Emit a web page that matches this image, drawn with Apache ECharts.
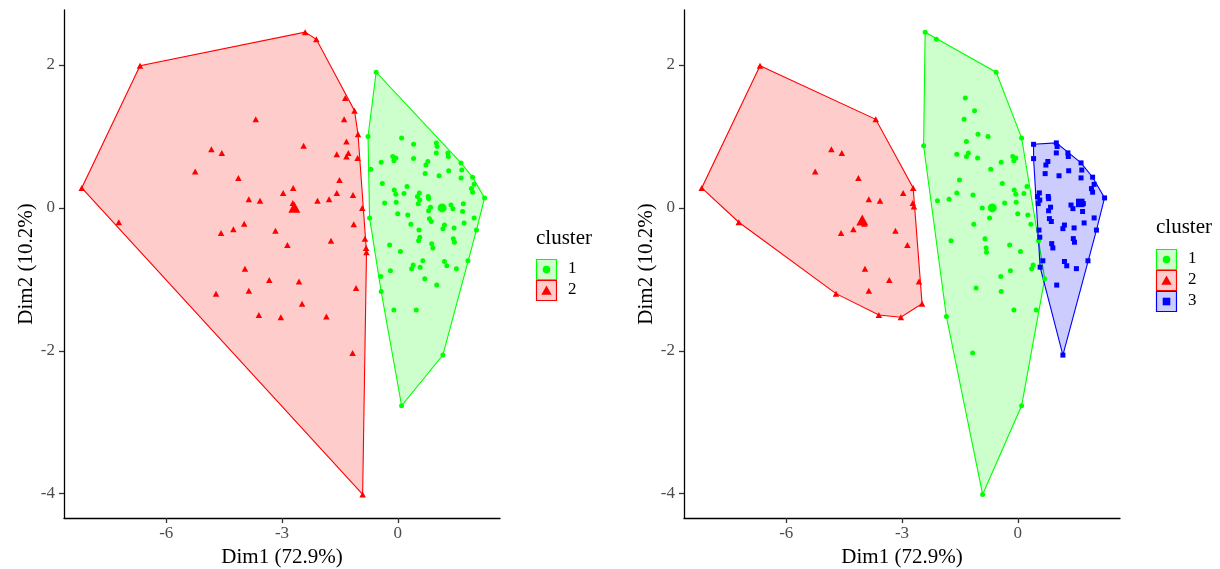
<!DOCTYPE html>
<html>
<head>
<meta charset="utf-8">
<script src="https://cdn.jsdelivr.net/npm/echarts@6/dist/echarts.min.js"></script>
<style>
html,body{margin:0;padding:0;background:#fff;}
#chart{width:1220px;height:569px;}
</style>
</head>
<body>
<div id="chart"></div>
<script>
// ---------------- DATA ----------------
// PCA coordinates of each observation
const dim1 = [
  -2.40,-2.11,-6.68,-8.19,-1.36,-1.12,-1.03,-1.04,-0.92,-3.68,
  -1.39,-2.44,-1.33,-1.58,-1.28,-1.33,-4.83,-4.56,-5.25,-4.13,
  -1.51,-2.71,-2.97,-1.58,-1.16,-3.86,-3.57,-2.08,-1.78,-2.72,
  -2.69,-7.23,-4.58,-4.26,-3.98,-3.17,-2.86,-1.14,-1.73,-0.85,
  -0.81,-0.82,-3.96,-3.33,-2.56,-4.71,-3.86,-1.08,-2.48,-3.60,
  -3.03,-1.85,-1.17,-0.91,
  -0.56,-0.77,-0.73,-0.44,1.64,1.94,2.25,2.04,1.82,1.17,
  0.10,0.10,0.41,1.00,1.02,1.00,1.30,1.31,-0.13,-0.05,
  -0.10,0.41,-0.43,0.78,0.73,-0.70,0.71,1.32,1.66,1.07,
  1.64,-0.40,0.24,1.98,1.91,1.94,-0.09,-0.05,0.16,0.56,
  0.51,0.57,0.79,0.80,-0.34,-0.04,0.53,1.38,1.43,1.70,
  0.85,1.68,0.80,0.00,0.26,0.82,0.87,0.34,1.72,1.21,
  1.17,1.46,0.55,0.57,0.54,1.44,1.47,-0.21,0.88,0.91,
  0.07,0.65,0.40,0.36,0.58,1.21,1.27,1.52,-0.19,0.70,
  1.01,-0.43,-0.10,0.48,1.98
];
const dim2 = [
  2.46,2.36,1.99,0.28,1.54,1.36,1.03,0.70,0.00,1.24,
  1.24,0.87,0.93,0.75,0.77,0.72,0.82,0.77,0.51,0.42,
  0.39,0.28,0.21,0.21,0.18,0.12,0.10,0.10,0.12,0.07,
  0.02,-0.20,-0.35,-0.30,-0.22,-0.32,-0.52,-0.23,-0.46,-0.43,
  -0.62,-0.56,-0.85,-1.01,-1.03,-1.20,-1.16,-1.12,-1.34,-1.50,
  -1.53,-1.52,-2.03,-4.01,
  1.90,1.00,-0.14,-0.96,0.63,0.43,0.14,-0.31,-0.74,-2.06,
  -2.77,0.98,0.89,0.91,0.86,0.77,0.77,0.72,0.72,0.70,
  0.66,0.69,0.64,0.65,0.60,0.54,0.48,0.52,0.53,0.45,
  0.42,0.34,0.30,0.33,0.27,0.22,0.25,0.19,0.20,0.21,
  0.16,0.11,0.16,0.13,0.07,0.08,0.06,0.04,-0.01,0.06,
  0.01,-0.05,-0.04,-0.08,-0.10,-0.15,-0.19,-0.23,-0.21,-0.24,
  -0.29,-0.28,-0.31,-0.41,-0.46,-0.43,-0.48,-0.52,-0.50,-0.56,
  -0.61,-0.74,-0.80,-0.85,-0.83,-0.75,-0.81,-0.85,-0.88,-0.99,
  -1.08,-1.17,-1.43,-1.43,-0.14
];
// cluster membership, k = 2 (left panel)
const clusterK2 = [
  2,2,2,2,2,2,2,2,2,2, 2,2,2,2,2,2,2,2,2,2,
  2,2,2,2,2,2,2,2,2,2, 2,2,2,2,2,2,2,2,2,2,
  2,2,2,2,2,2,2,2,2,2, 2,2,2,2,
  1,1,1,1,1,1,1,1,1,1, 1,1,1,1,1,1,1,1,1,1,
  1,1,1,1,1,1,1,1,1,1, 1,1,1,1,1,1,1,1,1,1,
  1,1,1,1,1,1,1,1,1,1, 1,1,1,1,1,1,1,1,1,1,
  1,1,1,1,1,1,1,1,1,1, 1,1,1,1,1,1,1,1,1,1,
  1,1,1,1,1
];
// cluster membership, k = 3 (right panel)
const clusterK3 = [
  1,1,2,2,1,1,1,1,1,2, 1,1,1,1,1,1,2,2,2,2,
  1,2,2,1,1,2,2,1,1,2, 2,2,2,2,2,2,2,1,1,1,
  1,1,2,2,2,2,2,1,2,2, 2,1,1,1,
  1,1,1,1,3,3,3,3,3,3, 1,1,3,3,3,3,3,3,1,1,
  1,3,1,3,3,1,3,3,3,3, 3,1,1,3,3,3,1,1,1,3,
  3,3,3,3,1,1,3,3,3,3, 3,3,3,1,1,3,3,1,3,3,
  3,3,3,3,1,3,3,1,3,3, 1,3,1,1,3,3,3,3,1,1,
  3,1,1,1,3
];
// cluster centres
const centerK2Cluster = [1, 2];
const centerK2Dim1 = [1.15, -2.68];
const centerK2Dim2 = [0.00, 0.01];
const centerK3Cluster = [1, 2, 3];
const centerK3Dim1 = [-0.66, -4.03, 1.62];
const centerK3Dim2 = [0.00, -0.17, 0.07];

const xTicks = [-6, -3, 0];
const yTicks = [-4, -2, 0, 2];
const xTitle = 'Dim1 (72.9%)';
const yTitle = 'Dim2 (10.2%)';
const legendTitle = 'cluster';

// ---------------- STYLE ----------------
const FONT = '"Liberation Serif", "DejaVu Serif", serif';
const COL = {1: '#00FF00', 2: '#FF0000', 3: '#0000FF'};
const FILL = {1: 'rgba(0,255,0,0.2)', 2: 'rgba(255,0,0,0.2)', 3: 'rgba(0,0,255,0.2)'};
const SYM = {1: 'circle', 2: 'triangle', 3: 'rect'};
const SIZE = {1: 5, 2: [6.5, 6], 3: 5};
const BIG = {1: 9, 2: [12, 11], 3: 8.5};

function convexHull(pts) {
  const p = pts.slice().sort((a, b) => a[0] - b[0] || a[1] - b[1]);
  if (p.length < 3) return p;
  const cross = (o, a, b) => (a[0]-o[0])*(b[1]-o[1]) - (a[1]-o[1])*(b[0]-o[0]);
  const lower = [], upper = [];
  for (const q of p) {
    while (lower.length >= 2 && cross(lower[lower.length-2], lower[lower.length-1], q) <= 0) lower.pop();
    lower.push(q);
  }
  for (let i = p.length - 1; i >= 0; i--) {
    const q = p[i];
    while (upper.length >= 2 && cross(upper[upper.length-2], upper[upper.length-1], q) <= 0) upper.pop();
    upper.push(q);
  }
  upper.pop(); lower.pop();
  return lower.concat(upper);
}

function panelSeries(idx, assign, clusters, cClusters, cX, cY) {
  const out = [];
  clusters.forEach(c => {
    const pts = [];
    for (let i = 0; i < dim1.length; i++) if (assign[i] === c) pts.push([dim1[i], dim2[i]]);
    const h = convexHull(pts);
    out.push({
      type: 'custom', xAxisIndex: idx, yAxisIndex: idx, silent: true, z: 1 + c * 0.01,
      clip: false,
      data: [[h[0][0], h[0][1]]],
      renderItem: function (params, api) {
        return {
          type: 'polygon',
          shape: {points: h.map(q => api.coord(q))},
          style: {fill: FILL[c], stroke: COL[c], lineWidth: 1.1}
        };
      }
    });
  });
  clusters.forEach(c => {
    const pts = [];
    for (let i = 0; i < dim1.length; i++) if (assign[i] === c) pts.push([dim1[i], dim2[i]]);
    out.push({
      type: 'scatter', xAxisIndex: idx, yAxisIndex: idx, silent: true, z: 3,
      symbol: SYM[c], symbolSize: SIZE[c], itemStyle: {color: COL[c], opacity: 1},
      data: pts
    });
  });
  cClusters.forEach((c, k) => {
    out.push({
      type: 'scatter', xAxisIndex: idx, yAxisIndex: idx, silent: true, z: 4,
      symbol: SYM[c], symbolSize: BIG[c], itemStyle: {color: COL[c], opacity: 1},
      data: [[cX[k], cY[k]]]
    });
  });
  return out;
}

function xAxisCfg(idx) {
  return {
    type: 'value', gridIndex: idx, min: -8.65, max: 2.65,
    axisLine: {show: true, onZero: false, lineStyle: {color: '#000', width: 1.3}},
    axisTick: {show: true, length: 5, customValues: xTicks, lineStyle: {color: '#333', width: 1.3}},
    axisLabel: {customValues: xTicks, color: '#4D4D4D', fontFamily: FONT, fontSize: 17, margin: 7},
    splitLine: {show: false},
    name: xTitle, nameLocation: 'middle', nameGap: 27,
    nameTextStyle: {fontFamily: FONT, fontSize: 21, color: '#000'}
  };
}
function yAxisCfg(idx) {
  return {
    type: 'value', gridIndex: idx, min: -4.34, max: 2.77,
    axisLine: {show: true, onZero: false, lineStyle: {color: '#000', width: 1.3}},
    axisTick: {show: true, length: 5, customValues: yTicks, lineStyle: {color: '#333', width: 1.3}},
    axisLabel: {customValues: yTicks, color: '#4D4D4D', fontFamily: FONT, fontSize: 17, margin: 9},
    splitLine: {show: false},
    name: yTitle, nameLocation: 'middle', nameGap: 24, nameRotate: 90,
    nameTextStyle: {fontFamily: FONT, fontSize: 21, color: '#000'}
  };
}

function legendGraphics(x0, yTitleC, yFirst, clusters) {
  const els = [];
  els.push({type: 'text', left: x0, top: yTitleC - 12, silent: true,
    style: {text: legendTitle, font: '21px ' + FONT, fill: '#000'}});
  clusters.forEach((c, k) => {
    const y = yFirst + k * 21;
    els.push({type: 'rect', silent: true, shape: {x: x0 + 0.5, y: y + 0.5, width: 20, height: 20},
      style: {fill: FILL[c], stroke: COL[c], lineWidth: 1.2}});
    const cx = x0 + 10.5, cy = y + 10.5;
    if (c === 1) els.push({type: 'circle', silent: true, shape: {cx: cx, cy: cy, r: 3.8}, style: {fill: COL[c]}});
    if (c === 2) els.push({type: 'polygon', silent: true, shape: {points: [[cx, cy - 5], [cx - 5.2, cy + 4.2], [cx + 5.2, cy + 4.2]]}, style: {fill: COL[c]}});
    if (c === 3) els.push({type: 'rect', silent: true, shape: {x: cx - 3.8, y: cy - 3.8, width: 7.6, height: 7.6}, style: {fill: COL[c]}});
    els.push({type: 'text', left: x0 + 32, top: cy - 9.5, silent: true,
      style: {text: String(c), font: '17px ' + FONT, fill: '#000'}});
  });
  return els;
}

const chart = echarts.init(document.getElementById('chart'), null, {renderer: 'canvas'});
chart.setOption({
  backgroundColor: '#fff',
  animation: false,
  grid: [
    {left: 64, top: 10, width: 436, height: 508, containLabel: false, outerBoundsMode: 'none'},
    {left: 684, top: 10, width: 436, height: 508, containLabel: false, outerBoundsMode: 'none'}
  ],
  xAxis: [xAxisCfg(0), xAxisCfg(1)],
  yAxis: [yAxisCfg(0), yAxisCfg(1)],
  series: [].concat(
    panelSeries(0, clusterK2, [1, 2], centerK2Cluster, centerK2Dim1, centerK2Dim2),
    panelSeries(1, clusterK3, [1, 2, 3], centerK3Cluster, centerK3Dim1, centerK3Dim2)
  ),
  graphic: legendGraphics(536, 240, 259, [1, 2]).concat(legendGraphics(1156, 229, 249, [1, 2, 3]))
});
</script>
</body>
</html>
